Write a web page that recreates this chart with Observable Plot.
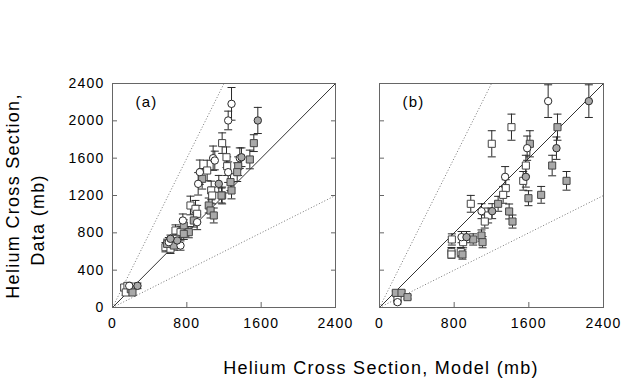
<!DOCTYPE html>
<html>
<head>
<meta charset="utf-8">
<script src="https://cdn.jsdelivr.net/npm/d3@7"></script>
<script src="https://cdn.jsdelivr.net/npm/@observablehq/plot@0.6"></script>
<style>
  html, body { margin: 0; padding: 0; background: #fff; }
  #wrap { position: relative; width: 623px; height: 381px; overflow: hidden; font-family: "Liberation Sans", Arial, sans-serif; }
  .abs { position: absolute; }
  .ttl { position: absolute; font-size: 18px; letter-spacing: 1.3px; color: #000; white-space: nowrap; transform: translate(-50%, -50%); }
  .rot { transform: translate(-50%, -50%) rotate(-90deg); }
</style>
</head>
<body>
<div id="wrap"></div>
<script>
// ---- data: [model (mb), data (mb), error (mb)] ----
const xTicks = [0, 800, 1600, 2400];
const yTicks = [0, 400, 800, 1200, 1600, 2000, 2400];
const ratios = [1, 2, 0.5];
const panelLabels = ["(a)", "(b)"];

const aOpenCircle = [[1281,2182,175],[1245,2004,100],[1083,1600,130],[1101,1575,100],[1245,1450,110],[1370,1600,110],[940,1450,130],[922,1325,120],[911,914,80],[757,932,70],[606,700,50],[732,664,50],[180,232,30]];
const aGreyCircle = [[1564,2004,140],[1388,1610,100],[1144,1325,90],[696,718,50],[624,736,40],[269,232,30]];
const aOpenSquare = [[1180,1761,110],[1227,1610,110],[1234,1514,100],[1019,1468,110],[1062,1254,100],[1073,1200,90],[1180,1200,90],[839,1093,100],[893,1057,90],[911,1004,90],[678,825,60],[732,807,60],[570,646,50],[624,629,50],[678,736,50],[126,214,30],[161,232,30],[143,161,30]];
const aGreySquare = [[1521,1761,90],[1353,1514,100],[1478,1586,100],[1342,1450,100],[1270,1343,90],[965,1379,110],[1173,1200,80],[1281,1254,90],[1036,1093,80],[1055,1039,80],[1090,986,80],[875,932,70],[767,879,60],[821,807,60],[767,789,60],[588,682,50],[660,664,50],[197,196,30],[215,161,30]];

const bOpenCircle = [[1807,2211,175],[1582,1707,130],[1346,1400,110],[1093,1032,80],[879,754,60],[193,57,20]];
const bGreyCircle = [[2243,2211,175],[1896,1707,120],[1568,1400,110],[1207,1032,80],[932,754,60]];
const bOpenSquare = [[1414,1932,140],[1203,1754,140],[1568,1521,110],[1540,1357,100],[1353,1279,90],[1325,1207,90],[978,1111,90],[1164,986,80],[1128,921,70],[775,729,60],[896,700,60],[771,593,50],[771,568,40],[871,593,50],[193,86,20]];
const bGreySquare = [[1907,1932,140],[1611,1754,140],[1850,1521,110],[2004,1357,100],[1732,1207,90],[1596,1171,80],[1271,1111,80],[1389,1029,80],[1425,921,70],[1004,729,60],[1093,771,60],[1104,700,60],[889,568,50],[175,157,20],[236,157,20],[300,111,20]];

const maxV = 2400;
const refs = ratios.map(r => ({r, x2: Math.min(maxV, maxV / r), y2: Math.min(maxV, maxV * r)}));

const cap = {draw(ctx) { ctx.moveTo(-4, 0); ctx.lineTo(4, 0); }};
const ink = "#2a2a2a";
const grey = "#a9a9a9";

function panel({openC, greyC, openS, greyS, label, left, width, yLabels, rightTicks}) {
  const all = [...openS, ...greyS, ...openC, ...greyC];
  const X = d => d[0], Y = d => d[1];
  const marks = [
    Plot.link(refs.filter(d => d.r === 1), {x1: 0, y1: 0, x2: "x2", y2: "y2", stroke: "#333", strokeWidth: 1}),
    Plot.link(refs.filter(d => d.r !== 1), {x1: 0, y1: 0, x2: "x2", y2: "y2", stroke: "#777", strokeWidth: 1, strokeDasharray: "1,2"}),
    Plot.ruleX(all, {x: X, y1: d => d[1] - d[2], y2: d => d[1] + d[2], stroke: ink, strokeWidth: 1}),
    Plot.dot(all, {x: X, y: d => d[1] + d[2], symbol: cap, r: 4, fill: "none", stroke: ink, strokeWidth: 1}),
    Plot.dot(all, {x: X, y: d => d[1] - d[2], symbol: cap, r: 4, fill: "none", stroke: ink, strokeWidth: 1}),
    Plot.dot(openS, {x: X, y: Y, symbol: "square", r: 4, fill: "white", stroke: "#444", strokeWidth: 1}),
    Plot.dot(greyS, {x: X, y: Y, symbol: "square", r: 4, fill: grey, stroke: "#444", strokeWidth: 1}),
    Plot.dot(openC, {x: X, y: Y, r: 3.7, fill: "white", stroke: ink, strokeWidth: 1}),
    Plot.dot(greyC, {x: X, y: Y, r: 3.7, fill: grey, stroke: ink, strokeWidth: 1}),
    Plot.frame({stroke: "#666", strokeWidth: 1}),
    Plot.axisX({ticks: xTicks, anchor: "bottom", tickSize: -5, tickPadding: 16, label: null, stroke: "#666", fill: "#000", tickFormat: d => String(d)}),
    Plot.axisY({ticks: yTicks, anchor: "left", tickSize: -5, tickPadding: 13, label: null, stroke: "#666", fill: "#000",
      tickFormat: yLabels ? (d => String(d)) : (() => "")}),
    Plot.text([label], {frameAnchor: "top-left", dx: 23, dy: 19, lineAnchor: "middle", textAnchor: "start", fontSize: 15, fill: "#000", text: d => d})
  ];
  if (rightTicks) marks.push(Plot.axisY({ticks: yTicks, anchor: "right", tickSize: -5, tickPadding: 0, label: null, stroke: "#666", tickFormat: () => ""}));
  const svg = Plot.plot({
    width, height: 340,
    marginTop: 83, marginBottom: 33, marginLeft: left, marginRight: 10,
    x: {domain: [0, maxV]}, y: {domain: [0, maxV]},
    style: {fontFamily: '"Liberation Sans", Arial, sans-serif', fontSize: "14px", letterSpacing: "1.2px", background: "transparent", overflow: "visible"},
    marks
  });
  return svg;
}

const wrap = document.getElementById("wrap");
const pa = panel({openC: aOpenCircle, greyC: aGreyCircle, openS: aOpenSquare, greyS: aGreySquare, label: panelLabels[0], left: 112, width: 345, yLabels: true, rightTicks: true});
pa.classList.add("abs"); pa.style.left = "0px"; pa.style.top = "0px";
const pb = panel({openC: bOpenCircle, greyC: bGreyCircle, openS: bOpenSquare, greyS: bGreySquare, label: panelLabels[1], left: 34, width: 268, yLabels: false, rightTicks: false});
pb.classList.add("abs"); pb.style.left = "345px"; pb.style.top = "0px";
wrap.appendChild(pa);
wrap.appendChild(pb);

function title(text, x, y, rot) {
  const d = document.createElement("div");
  d.className = "ttl" + (rot ? " rot" : "");
  d.textContent = text;
  d.style.left = x + "px"; d.style.top = y + "px";
  wrap.appendChild(d);
}
title("Helium Cross Section, Model (mb)", 381, 368, false);
title("Helium Cross Section,", 13, 196, true);
title("Data (mb)", 38, 220, true);
</script>
</body>
</html>
